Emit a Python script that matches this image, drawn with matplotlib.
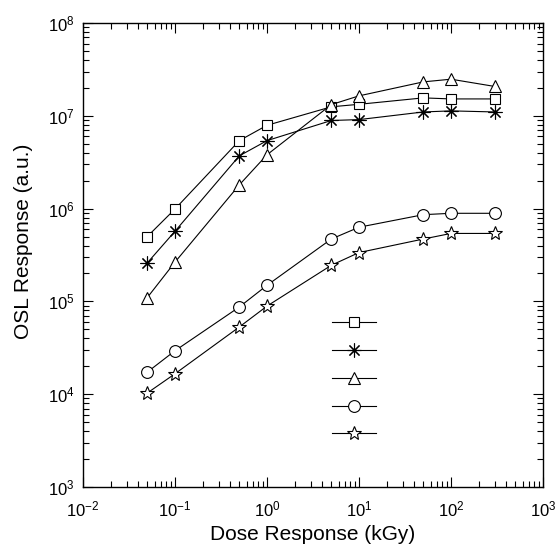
import matplotlib
matplotlib.use("Agg")
import matplotlib.pyplot as plt
from matplotlib.ticker import LogLocator, NullFormatter

plt.rcParams['font.family'] = ['Liberation Sans', 'DejaVu Sans']

dose = [0.05, 0.1, 0.5, 1, 5, 10, 50, 100, 300]
s_square = [5.0e5, 9.9e5, 5.4e6, 7.9e6, 1.25e7, 1.33e7, 1.56e7, 1.52e7, 1.52e7]
s_aster = [2.6e5, 5.7e5, 3.7e6, 5.4e6, 8.9e6, 9.1e6, 1.1e7, 1.13e7, 1.1e7]
s_tri = [1.1e5, 2.65e5, 1.8e6, 3.8e6, 1.32e7, 1.64e7, 2.32e7, 2.48e7, 2.07e7]
s_circ = [1.73e4, 2.94e4, 8.7e4, 1.49e5, 4.7e5, 6.3e5, 8.6e5, 8.9e5, 8.9e5]
s_star = [1.03e4, 1.66e4, 5.3e4, 8.9e4, 2.45e5, 3.36e5, 4.7e5, 5.4e5, 5.4e5]

series = [
    (s_square, 's', 7.5),
    (s_aster, (8, 2, 0), 10),
    (s_tri, '^', 9),
    (s_circ, 'o', 8.5),
    (s_star, '*', 10),
]

fig = plt.figure(figsize=(5.58, 5.53), dpi=100)
ax = fig.add_axes([83/558, 1-487/553, 460/558, 464/553])

handles = []
for ys, mk, ms in series:
    h, = ax.plot(dose, ys, color='black', lw=0.8, marker=mk, markersize=ms,
                 markerfacecolor='white', markeredgecolor='black',
                 markeredgewidth=0.8)
    handles.append(h)

ax.set_xscale('log')
ax.set_yscale('log')
ax.set_xlim(1e-2, 1e3)
ax.set_ylim(1e3, 1e8)
ax.xaxis.set_major_locator(LogLocator(base=10, numticks=10))
ax.yaxis.set_major_locator(LogLocator(base=10, numticks=10))
ax.xaxis.set_minor_locator(LogLocator(base=10, subs=range(2, 10), numticks=20))
ax.yaxis.set_minor_locator(LogLocator(base=10, subs=range(2, 10), numticks=20))
ax.xaxis.set_minor_formatter(NullFormatter())
ax.yaxis.set_minor_formatter(NullFormatter())
ax.tick_params(which='both', direction='in', top=True, right=True, width=0.8)
ax.tick_params(which='major', length=7, labelsize=12)
ax.tick_params(axis='x', which='major', pad=9)
ax.tick_params(axis='y', which='major', pad=6)
ax.tick_params(which='minor', length=4)
for sp in ax.spines.values():
    sp.set_linewidth(1.0)

ax.set_xlabel('Dose Response (kGy)', fontsize=15)
ax.set_ylabel('OSL Response (a.u.)', fontsize=15)
ax.xaxis.set_label_coords(0.5, -0.082)
ax.yaxis.set_label_coords(-0.108, 0.53)

ax.legend(handles, ['', '', '', '', ''], frameon=False, handlelength=3.2,
          loc='upper left', bbox_to_anchor=(0.52, 0.39), labelspacing=1.0,
          handletextpad=0.0, borderpad=0.2)

fig.savefig('out.png', dpi=100)
